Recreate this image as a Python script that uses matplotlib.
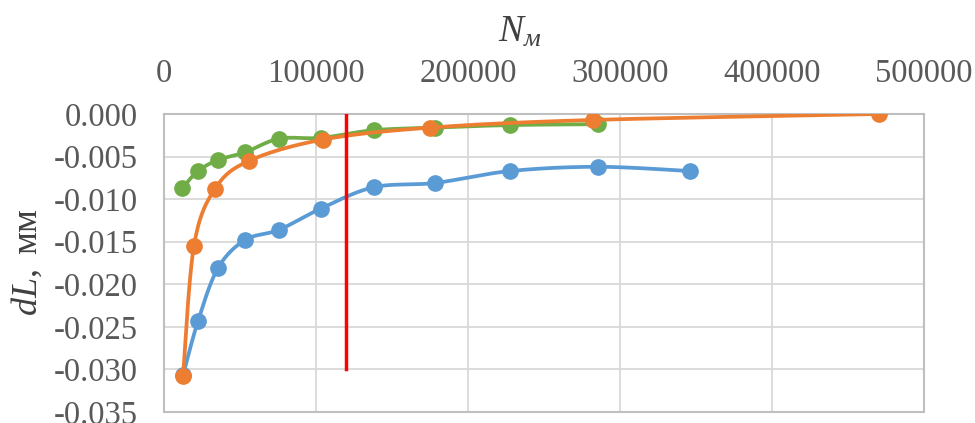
import numpy as np
import matplotlib
matplotlib.use('Agg')
import matplotlib.pyplot as plt

plt.rcParams['font.family'] = ['Liberation Serif', 'DejaVu Serif']
plt.rcParams['mathtext.fontset'] = 'custom'
plt.rcParams['mathtext.rm'] = 'Liberation Serif'
plt.rcParams['mathtext.it'] = 'Liberation Serif:italic'

# данные
x_blue = [12500, 22400, 35500, 53300, 75700, 103300, 138000, 178300, 227600, 285500, 346000]
y_blue = [-0.0307, -0.0243, -0.0181, -0.0148, -0.0136, -0.0111, -0.0086, -0.0081, -0.0067, -0.0062, -0.0067]

x_orange = [12500, 19700, 33500, 56000, 104600, 175000, 282000, 470400]
y_orange = [-0.0308, -0.0155, -0.0088, -0.0055, -0.0030, -0.0016, -0.0007, 0.0000]

x_green = [12000, 22400, 35500, 53300, 75700, 103300, 138000, 178300, 227600, 285500]
y_green = [-0.0087, -0.0067, -0.0054, -0.0045, -0.0029, -0.0028, -0.0019, -0.0016, -0.0013, -0.0012]

x_red = [120000, 120000]
y_red = [0.0, -0.030]


def smooth(xs, ys, n=30):
    # сглаживание как в Excel (кривые Безье по соседним точкам)
    p = np.column_stack([xs, ys]).astype(float)
    out = [p[0]]
    t = np.linspace(0, 1, n)[1:, None]
    for i in range(len(p) - 1):
        p0 = p[i - 1] if i > 0 else p[i]
        p3 = p[i + 2] if i + 2 < len(p) else p[i + 1]
        c1 = p[i] + (p[i + 1] - p0) / 6
        c2 = p[i + 1] - (p3 - p[i]) / 6
        seg = ((1 - t) ** 3) * p[i] + 3 * ((1 - t) ** 2) * t * c1 + 3 * (1 - t) * t ** 2 * c2 + t ** 3 * p[i + 1]
        out.extend(seg)
    out = np.array(out)
    return out[:, 0], out[:, 1]


fig = plt.figure(figsize=(9.75, 4.23), dpi=100)
ax = fig.add_axes([164 / 975, 1 - 412 / 423, 760 / 975, 298 / 423])

for xs, ys, c in [(x_blue, y_blue, '#5b9bd5'), (x_green, y_green, '#70ad47'), (x_orange, y_orange, '#ed7d31')]:
    sx, sy = smooth(xs, ys)
    ax.plot(sx, sy, color=c, lw=2.7, solid_capstyle='round', zorder=3)
    ax.plot(xs, ys, 'o', color=c, ms=11, zorder=3)

ax.plot(x_red, y_red, color='#ff0000', lw=2.5, zorder=4)

ax.set_xlim(0, 500000)
ax.set_ylim(-0.035, 0.0)
ax.set_xticks(np.arange(0, 500001, 100000))
ax.set_yticks(np.arange(-0.035, 0.0001, 0.005))
ax.set_yticklabels(['%.3f' % v for v in np.arange(-0.035, 0.0001, 0.005)])
ax.xaxis.tick_top()
ax.tick_params(length=0, labelsize=23.5, labelcolor='#595959')
ax.tick_params(axis='x', pad=18)
ax.tick_params(axis='y', pad=19)
ax.grid(True, color='#d9d9d9', lw=1.3)
ax.set_axisbelow(True)
for s in ax.spines.values():
    s.set_color('#bfbfbf')
    s.set_linewidth(1.5)

fig.text(520 / 975, 1 - 42 / 423, r'$\mathit{N}_{\mathit{м}}$', fontsize=27, color='#404040',
         ha='center', va='baseline')
fig.text(27 / 975, 1 - 262 / 423, r'$\mathit{dL},\ \mathrm{мм}$', fontsize=26, color='#404040',
         ha='center', va='center', rotation=90)

fig.savefig('out.png', dpi=100)
